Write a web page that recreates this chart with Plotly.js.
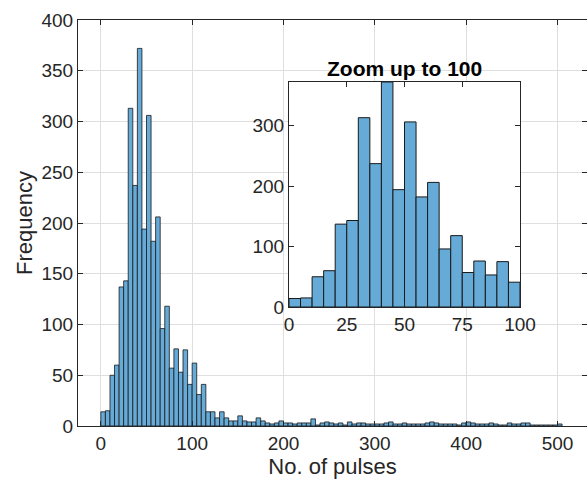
<!DOCTYPE html>
<html>
<head>
<meta charset="utf-8">
<script src="https://cdn.plot.ly/plotly-3.0.1.min.js"></script>
<style>html,body{margin:0;padding:0;background:#fff;}#chart{width:587px;height:485px;}</style>
</head>
<body>
<div id="chart"></div>
<script>
// Histogram counts, bin width 5, first bin starts at 0 (bins 0-5, 5-10, ... 500-505)
const binWidth = 5;
const binStart = 0;
const counts = [
  14, 15, 50, 60, 137, 143, 313, 237, 372, 194,
  306, 182, 206, 96, 118, 57, 76, 53, 75, 41,
  62, 31, 41, 14, 14, 8, 14, 8, 5, 5,
  10, 5, 4, 4, 8, 5, 3, 2, 3, 5,
  3, 3, 2, 3, 3, 3, 7, 1, 3, 4,
  3, 2, 3, 1, 4, 2, 3, 3, 2, 2,
  2, 2, 3, 4, 2, 2, 3, 2, 2, 2,
  2, 3, 4, 3, 2, 2, 2, 2, 1, 3,
  4, 3, 2, 2, 2, 3, 2, 1, 1, 3,
  2, 2, 3, 3, 1, 1, 1, 1, 1, 1,
  2
];
const zoomLimit = 100;
const mainXTicks = [0, 100, 200, 300, 400, 500];
const mainYTicks = [0, 50, 100, 150, 200, 250, 300, 350, 400];
const insetXTicks = [0, 25, 50, 75, 100];
const insetYTicks = [0, 100, 200, 300];
const xLabel = 'No. of pulses';
const yLabel = 'Frequency';
const insetTitle = 'Zoom up to 100';

const centers = counts.map((_, i) => binStart + (i + 0.5) * binWidth);
const nInset = Math.round((zoomLimit - binStart) / binWidth);
const insetCenters = centers.slice(0, nInset);
const insetCounts = counts.slice(0, nInset);

const barColor = 'rgb(102,170,215)';
const edgeColor = 'rgb(25,25,25)';
const axColor = 'rgb(38,38,38)';
const gridColor = 'rgb(223,223,223)';
const fontFam = 'Liberation Sans, Arial, Helvetica, sans-serif';

const traces = [
  {type: 'bar', x: centers, y: counts, width: binWidth,
   marker: {color: barColor, line: {color: edgeColor, width: 0.8}},
   xaxis: 'x', yaxis: 'y', hoverinfo: 'skip'},
  {type: 'bar', x: insetCenters, y: insetCounts, width: binWidth,
   marker: {color: barColor, line: {color: edgeColor, width: 1}},
   xaxis: 'x2', yaxis: 'y2', hoverinfo: 'skip'}
];

const W = 587, H = 485;
const mL = 78, mR = 0, mT = 20, mB = 59;
const pw = W - mL - mR, ph = H - mT - mB;
// inset box in pixels
const inL = 289, inR = 520, inT = 82, inB = 307;
const insetDomX = [(inL - mL) / pw, (inR - mL) / pw];
const insetDomY = [(H - mB - inB) / ph, (H - mB - inT) / ph];

const common = {
  showline: true, linecolor: axColor, linewidth: 1, mirror: 'ticks',
  ticks: 'inside', ticklen: 5, tickcolor: axColor, tickwidth: 1,
  zeroline: false, tickfont: {family: fontFam, size: 19, color: axColor},
  fixedrange: true
};

const layout = {
  width: W, height: H,
  margin: {l: mL, r: mR, t: mT, b: mB, pad: 0},
  paper_bgcolor: '#fff', plot_bgcolor: '#fff',
  showlegend: false, bargap: 0,
  font: {family: fontFam, color: axColor},
  xaxis: Object.assign({}, common, {
    domain: [0, 1], range: [-25, 532.3], tickvals: mainXTicks,
    showgrid: true, gridcolor: gridColor, gridwidth: 1,
    title: {text: xLabel, font: {family: fontFam, size: 22, color: axColor}, standoff: 4},
    anchor: 'y'
  }),
  yaxis: Object.assign({}, common, {
    domain: [0, 1], range: [0, 400], tickvals: mainYTicks,
    showgrid: true, gridcolor: gridColor, gridwidth: 1,
    title: {text: yLabel, font: {family: fontFam, size: 22, color: axColor}, standoff: 2},
    anchor: 'x'
  }),
  xaxis2: Object.assign({}, common, {
    domain: insetDomX, range: [0, zoomLimit], tickvals: insetXTicks,
    showgrid: false, anchor: 'y2'
  }),
  yaxis2: Object.assign({}, common, {
    domain: insetDomY, range: [0, 372], tickvals: insetYTicks,
    showgrid: false, anchor: 'x2'
  }),
  annotations: [{
    text: '<b>' + insetTitle + '</b>', xref: 'paper', yref: 'paper',
    x: (insetDomX[0] + insetDomX[1]) / 2, y: insetDomY[1], yshift: 0,
    xanchor: 'center', yanchor: 'bottom', showarrow: false,
    font: {family: fontFam, size: 21, color: '#000'}
  }]
};

Plotly.newPlot('chart', traces, layout, {displayModeBar: false, staticPlot: true});
</script>
</body>
</html>
